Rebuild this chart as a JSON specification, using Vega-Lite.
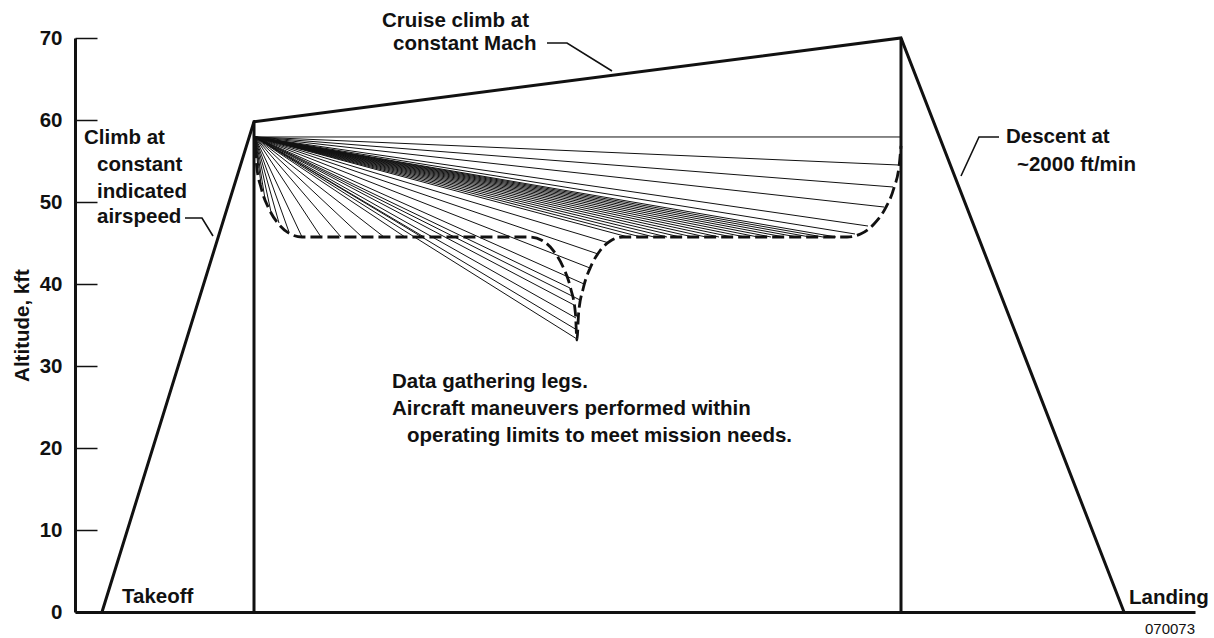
{
  "$schema": "https://vega.github.io/schema/vega-lite/v6.json",
  "width": 1120,
  "height": 574,
  "autosize": {"type": "none"},
  "padding": {"left": 75, "top": 38, "right": 19, "bottom": 26},
  "background": "white",
  "config": {"view": {"stroke": null}, "font": "Liberation Sans"},
  "datasets": {
    "profile": [
      {"seg": "p", "o": 1, "x": 27, "y": 0},
      {"seg": "p", "o": 2, "x": 179, "y": 59.8},
      {"seg": "p", "o": 3, "x": 826, "y": 70},
      {"seg": "p", "o": 4, "x": 1049, "y": 0},
      {"seg": "v1", "o": 1, "x": 179, "y": 0},
      {"seg": "v1", "o": 2, "x": 179, "y": 59.8},
      {"seg": "v2", "o": 1, "x": 826, "y": 0},
      {"seg": "v2", "o": 2, "x": 826, "y": 70}
    ],
    "fan": [
      {"x": 180, "y": 57.93, "x2": 826, "y2": 57.93},
      {"x": 180, "y": 57.93, "x2": 181, "y2": 56.1},
      {"x": 180, "y": 57.93, "x2": 183, "y2": 54.15},
      {"x": 180, "y": 57.93, "x2": 186, "y2": 52.2},
      {"x": 180, "y": 57.93, "x2": 190, "y2": 50.37},
      {"x": 180, "y": 57.93, "x2": 196, "y2": 48.78},
      {"x": 180, "y": 57.93, "x2": 204, "y2": 47.44},
      {"x": 180, "y": 57.93, "x2": 214, "y2": 46.34},
      {"x": 180, "y": 57.93, "x2": 227, "y2": 45.73},
      {"x": 180, "y": 57.93, "x2": 246, "y2": 45.73},
      {"x": 180, "y": 57.93, "x2": 266, "y2": 45.73},
      {"x": 180, "y": 57.93, "x2": 287, "y2": 45.73},
      {"x": 180, "y": 57.93, "x2": 309, "y2": 45.73},
      {"x": 180, "y": 57.93, "x2": 330, "y2": 45.73},
      {"x": 180, "y": 57.93, "x2": 349, "y2": 45.73},
      {"x": 180, "y": 57.93, "x2": 495, "y2": 39.51},
      {"x": 180, "y": 57.93, "x2": 499, "y2": 37.44},
      {"x": 180, "y": 57.93, "x2": 501, "y2": 35.85},
      {"x": 180, "y": 57.93, "x2": 502, "y2": 34.39},
      {"x": 180, "y": 57.93, "x2": 502, "y2": 33.29},
      {"x": 180, "y": 57.93, "x2": 505, "y2": 38.05},
      {"x": 180, "y": 57.93, "x2": 509, "y2": 40.0},
      {"x": 180, "y": 57.93, "x2": 515, "y2": 41.95},
      {"x": 180, "y": 57.93, "x2": 523, "y2": 43.66},
      {"x": 180, "y": 57.93, "x2": 534, "y2": 45.0},
      {"x": 180, "y": 57.93, "x2": 553, "y2": 45.73},
      {"x": 180, "y": 57.93, "x2": 566, "y2": 45.73},
      {"x": 180, "y": 57.93, "x2": 579, "y2": 45.73},
      {"x": 180, "y": 57.93, "x2": 592, "y2": 45.73},
      {"x": 180, "y": 57.93, "x2": 605, "y2": 45.73},
      {"x": 180, "y": 57.93, "x2": 618, "y2": 45.73},
      {"x": 180, "y": 57.93, "x2": 631, "y2": 45.73},
      {"x": 180, "y": 57.93, "x2": 644, "y2": 45.73},
      {"x": 180, "y": 57.93, "x2": 657, "y2": 45.73},
      {"x": 180, "y": 57.93, "x2": 670, "y2": 45.73},
      {"x": 180, "y": 57.93, "x2": 683, "y2": 45.73},
      {"x": 180, "y": 57.93, "x2": 696, "y2": 45.73},
      {"x": 180, "y": 57.93, "x2": 709, "y2": 45.73},
      {"x": 180, "y": 57.93, "x2": 722, "y2": 45.73},
      {"x": 180, "y": 57.93, "x2": 735, "y2": 45.73},
      {"x": 180, "y": 57.93, "x2": 748, "y2": 45.73},
      {"x": 180, "y": 57.93, "x2": 761, "y2": 45.73},
      {"x": 180, "y": 57.93, "x2": 780, "y2": 46.1},
      {"x": 180, "y": 57.93, "x2": 793, "y2": 47.07},
      {"x": 180, "y": 57.93, "x2": 809, "y2": 49.39},
      {"x": 180, "y": 57.93, "x2": 818, "y2": 51.83},
      {"x": 180, "y": 57.93, "x2": 824, "y2": 54.51}
    ],
    "envelope": [
      {"o": 1, "x": 180, "y": 56.83},
      {"o": 2, "x": 181.6, "y": 54.5},
      {"o": 3, "x": 186.3, "y": 51.65},
      {"o": 4, "x": 193.8, "y": 49.2},
      {"o": 5, "x": 203.5, "y": 47.32},
      {"o": 6, "x": 214.8, "y": 46.13},
      {"o": 7, "x": 227, "y": 45.73},
      {"o": 8, "x": 455, "y": 45.73},
      {"o": 9, "x": 467.2, "y": 45.3},
      {"o": 10, "x": 478.5, "y": 44.05},
      {"o": 11, "x": 488.2, "y": 42.05},
      {"o": 12, "x": 495.7, "y": 39.45},
      {"o": 13, "x": 500.4, "y": 36.43},
      {"o": 14, "x": 502, "y": 33.17},
      {"o": 15, "x": 503.6, "y": 36.43},
      {"o": 16, "x": 508.2, "y": 39.45},
      {"o": 17, "x": 515.5, "y": 42.05},
      {"o": 18, "x": 525, "y": 44.05},
      {"o": 19, "x": 536.1, "y": 45.3},
      {"o": 20, "x": 548, "y": 45.73},
      {"o": 21, "x": 772, "y": 45.73},
      {"o": 22, "x": 786, "y": 46.13},
      {"o": 23, "x": 799, "y": 47.32},
      {"o": 24, "x": 810.2, "y": 49.2},
      {"o": 25, "x": 818.8, "y": 51.65},
      {"o": 26, "x": 824.2, "y": 54.5},
      {"o": 27, "x": 826, "y": 56.83}
    ],
    "leaders": [
      {"g": "cruise", "o": 1, "x": 472, "y": 69.39},
      {"g": "cruise", "o": 2, "x": 492, "y": 69.39},
      {"g": "cruise", "o": 3, "x": 537, "y": 65.98},
      {"g": "climb", "o": 1, "x": 110, "y": 48.05},
      {"g": "climb", "o": 2, "x": 127, "y": 48.05},
      {"g": "climb", "o": 3, "x": 138, "y": 45.85},
      {"g": "descent", "o": 1, "x": 924, "y": 57.93},
      {"g": "descent", "o": 2, "x": 904, "y": 57.93},
      {"g": "descent", "o": 3, "x": 886, "y": 53.17}
    ],
    "labels": [
      {"label": "Cruise climb at", "x": 307, "y": 71.34},
      {"label": "constant Mach", "x": 318, "y": 68.54},
      {"label": "Climb at", "x": 9, "y": 57.07},
      {"label": "constant", "x": 22, "y": 53.78},
      {"label": "indicated", "x": 22, "y": 50.49},
      {"label": "airspeed", "x": 22, "y": 47.44},
      {"label": "Descent at", "x": 931, "y": 57.2},
      {"label": "~2000 ft/min", "x": 942, "y": 53.78},
      {"label": "Takeoff", "x": 47, "y": 1.1},
      {"label": "Landing", "x": 1054, "y": 0.98},
      {"label": "Data gathering legs.", "x": 317, "y": 27.32},
      {"label": "Aircraft maneuvers performed within", "x": 317, "y": 24.02},
      {"label": "operating limits to meet mission needs.", "x": 332, "y": 20.73}
    ],
    "code": [
      {"label": "070073", "x": 1070, "y": -2.68}
    ]
  },
  "encoding": {
    "x": {
      "field": "x",
      "type": "quantitative",
      "scale": {"domain": [0, 1120], "nice": false, "zero": false},
      "axis": {"title": null, "ticks": false, "labels": false, "grid": false, "domainWidth": 3, "domainColor": "#111"}
    },
    "y": {
      "field": "y",
      "type": "quantitative",
      "scale": {"domain": [0, 70], "nice": false},
      "axis": {
        "title": "Altitude, kft",
        "values": [0, 10, 20, 30, 40, 50, 60, 70],
        "grid": false,
        "tickSize": -22,
        "tickWidth": 1.5,
        "tickColor": "#111",
        "domainWidth": 3,
        "domainColor": "#111",
        "labelPadding": 35,
        "labelFont": "Liberation Sans",
        "labelFontWeight": "bold",
        "labelFontSize": 20.5,
        "labelColor": "#111",
        "titleFont": "Liberation Sans",
        "titleFontWeight": "bold",
        "titleFontSize": 20.5,
        "titleColor": "#111",
        "titleX": -47,
        "titleY": 287,
        "titleAngle": -90,
        "titleAlign": "center",
        "titleBaseline": "alphabetic"
      }
    }
  },
  "layer": [
    {
      "data": {"name": "fan"},
      "mark": {"type": "rule", "color": "#111", "strokeWidth": 1},
      "encoding": {"x2": {"field": "x2"}, "y2": {"field": "y2"}}
    },
    {
      "data": {"name": "envelope"},
      "mark": {"type": "line", "color": "#111", "strokeWidth": 2.8, "strokeDash": [12, 5], "interpolate": "monotone"},
      "encoding": {"order": {"field": "o", "type": "quantitative"}}
    },
    {
      "data": {"name": "profile"},
      "mark": {"type": "line", "color": "#111", "strokeWidth": 3},
      "encoding": {"detail": {"field": "seg"}, "order": {"field": "o", "type": "quantitative"}}
    },
    {
      "data": {"name": "leaders"},
      "mark": {"type": "line", "color": "#111", "strokeWidth": 1.6},
      "encoding": {"detail": {"field": "g"}, "order": {"field": "o", "type": "quantitative"}}
    },
    {
      "data": {"name": "labels"},
      "mark": {"type": "text", "align": "left", "baseline": "alphabetic", "font": "Liberation Sans", "fontWeight": "bold", "fontSize": 20.5, "color": "#111"},
      "encoding": {"text": {"field": "label"}}
    },
    {
      "data": {"name": "code"},
      "mark": {"type": "text", "align": "left", "baseline": "alphabetic", "font": "Liberation Sans", "fontSize": 15, "color": "#111"},
      "encoding": {"text": {"field": "label"}}
    }
  ]
}
